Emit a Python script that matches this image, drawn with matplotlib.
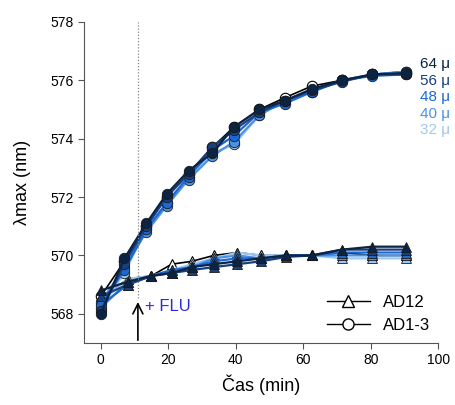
import numpy as np
import matplotlib.pyplot as plt

plt.rcParams['font.family'] = ['Liberation Sans', 'DejaVu Sans']

# time points (min)
t_circ = [0, 7, 13.5, 19.5, 26, 33, 39.5, 47, 54.5, 62.5, 71.5, 80.5, 90.5]
t_tri = [0, 8, 15, 21, 27, 33.5, 40.5, 47.5, 55, 62.5, 71.5, 80.5, 90.5]

# AD1-3 (circles)
circ_0 = [568.6, 569.8, 571.0, 572.0, 572.8, 573.7, 574.4, 575.0, 575.4, 575.8, 576.0, 576.2, 576.3]
circ_32 = [568.2, 569.4, 570.9, 571.8, 572.7, 573.5, 573.8, 574.8, 575.3, 575.6, 576.0, 576.2, 576.2]
circ_40 = [568.4, 569.6, 570.8, 571.7, 572.6, 573.4, 573.9, 574.8, 575.3, 575.6, 576.0, 576.2, 576.3]
circ_48 = [568.3, 569.5, 570.9, 571.8, 572.7, 573.6, 574.1, 574.9, 575.2, 575.6, 576.0, 576.15, 576.2]
circ_56 = [568.1, 569.7, 571.0, 572.0, 572.8, 573.7, 574.3, 574.9, 575.3, 575.65, 575.95, 576.2, 576.2]
circ_64 = [568.0, 569.9, 571.1, 572.1, 572.9, 573.5, 574.4, 575.0, 575.3, 575.7, 576.0, 576.2, 576.25]

# AD12 (triangles)
tri_0 = [568.5, 569.2, 569.3, 569.7, 569.8, 570.0, 570.1, 570.0, 570.0, 570.0, 570.1, 570.0, 570.0]
tri_32 = [568.4, 569.2, 569.3, 569.5, 569.7, 569.9, 570.1, 570.0, 570.0, 570.0, 569.9, 569.9, 569.9]
tri_40 = [568.2, 569.1, 569.3, 569.4, 569.6, 569.9, 570.0, 569.9, 570.0, 570.0, 570.0, 570.0, 570.0]
tri_48 = [568.3, 569.0, 569.3, 569.5, 569.6, 569.8, 569.9, 569.9, 570.0, 570.0, 570.1, 570.1, 570.1]
tri_56 = [568.6, 569.0, 569.3, 569.4, 569.5, 569.6, 569.7, 569.8, 569.95, 570.0, 570.2, 570.2, 570.2]
tri_64 = [568.8, 569.1, 569.3, 569.4, 569.6, 569.7, 569.8, 569.9, 570.0, 570.0, 570.2, 570.3, 570.3]

conc_labels = ['32 μ', '40 μ', '48 μ', '56 μ', '64 μ']
colors = ['#9ec8f2', '#4b92e6', '#1c68d4', '#183f80', '#0b2444']

circ_series = [circ_32, circ_40, circ_48, circ_56, circ_64]
tri_series = [tri_32, tri_40, tri_48, tri_56, tri_64]

fig = plt.figure(figsize=(4.56, 4.05), dpi=100)
ax = fig.add_axes([0.184, 0.153, 0.777, 0.793])

# controls (white markers) first
ax.plot(t_tri, tri_0, color='black', lw=1.2, marker='^', ms=7.5,
        mfc='white', mec='black', mew=0.8)
ax.plot(t_circ, circ_0, color='black', lw=1.2, marker='o', ms=7.5,
        mfc='white', mec='black', mew=0.8)
for ys_t, ys_c, c in zip(tri_series, circ_series, colors):
    ax.plot(t_tri, ys_t, color=c, lw=1.6, marker='^', ms=7.5,
            mfc=c, mec='#1a1a1a', mew=0.6)
    ax.plot(t_circ, ys_c, color=c, lw=1.6, marker='o', ms=7.5,
            mfc=c, mec='#1a1a1a', mew=0.6)

# concentration labels on the right
label_y = [574.3, 574.86, 575.42, 575.98, 576.54]
for lab, c, y in zip(conc_labels, colors, label_y):
    ax.text(94.7, y, lab, color=c, fontsize=11, va='center',
            ha='left', clip_on=False)

# FLU addition
ax.axvline(11, ymin=0.14, ymax=1, color='#888888', lw=0.9, ls=(0, (1, 1.5)))
ax.annotate('', xy=(11, 568.5), xytext=(11, 567),
            arrowprops=dict(arrowstyle='->', color='black', lw=1.2,
                            mutation_scale=18))
ax.text(13, 568.25, '+ FLU', color='#2b2bdc', fontsize=12, va='center')

# legend
h1, = ax.plot([], [], color='black', lw=1, marker='^', ms=8, mfc='white', mec='black')
h2, = ax.plot([], [], color='black', lw=1, marker='o', ms=8, mfc='white', mec='black')
ax.legend([h1, h2], ['AD12', 'AD1-3'], loc='lower right', frameon=False,
          fontsize=12, handlelength=2.6, bbox_to_anchor=(1.02, -0.015))

ax.set_xlim(-5, 100)
ax.set_ylim(567, 578)
ax.set_xticks(np.arange(0, 101, 20))
ax.set_yticks(np.arange(568, 579, 2))
ax.spines['top'].set_visible(False)
ax.spines['right'].set_visible(False)
for s in ['left', 'bottom']:
    ax.spines[s].set_color('#555555')
ax.tick_params(direction='out', length=4, color='#555555', labelsize=10)
ax.set_xlabel('Čas (min)', fontsize=13, labelpad=5)
ax.set_ylabel('λmax (nm)', fontsize=13, labelpad=14)

fig.savefig('out.png', dpi=100)
